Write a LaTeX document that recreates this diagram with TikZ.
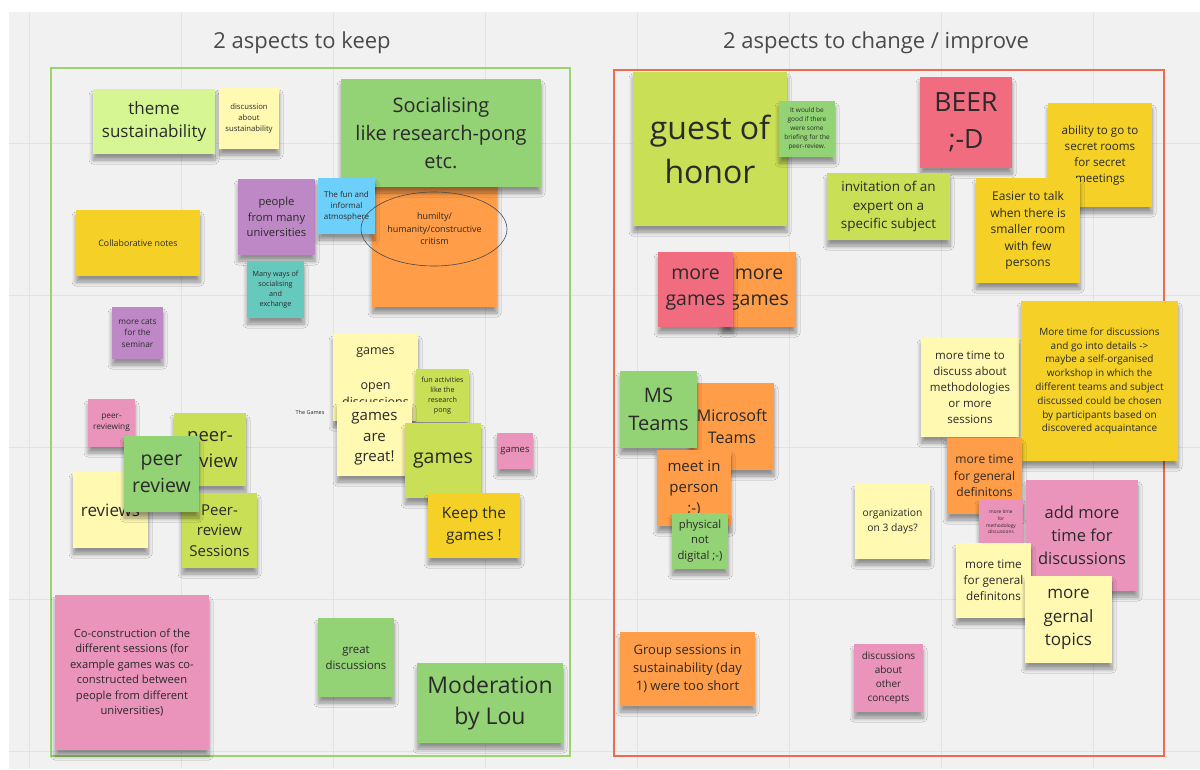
\documentclass[tikz,border=0pt]{standalone}
\usepackage{fontspec}
\setmainfont{Open Sans}
\usetikzlibrary{shadows.blur}
\definecolor{bg}{HTML}{F1F1F1}
\definecolor{gridc}{HTML}{E3E3E3}
\definecolor{ink}{HTML}{2A2A2A}
\definecolor{cLY}{HTML}{FFF9B1}
\definecolor{cYE}{HTML}{F5D128}
\definecolor{cOR}{HTML}{FF9D48}
\definecolor{cLG}{HTML}{D5F692}
\definecolor{cLI}{HTML}{C9DF56}
\definecolor{cGR}{HTML}{93D275}
\definecolor{cCY}{HTML}{6CD0FA}
\definecolor{cTE}{HTML}{66C9BE}
\definecolor{cVI}{HTML}{BE88C7}
\definecolor{cPK}{HTML}{EA94BB}
\definecolor{cRD}{HTML}{F16C7F}
\definecolor{frameG}{HTML}{9AD46E}
\definecolor{frameR}{HTML}{EE6A50}
\tikzset{
  note/.style={inner sep=0pt, align=center, text=ink,
    blur shadow={shadow xshift=0pt, shadow yshift=-6pt, shadow blur radius=4pt, shadow blur steps=6, shadow opacity=40}},
  ly/.style={fill=cLY}, ye/.style={fill=cYE}, or/.style={fill=cOR},
  lg/.style={fill=cLG}, li/.style={fill=cLI}, gr/.style={fill=cGR},
  cy/.style={fill=cCY}, te/.style={fill=cTE}, vi/.style={fill=cVI},
  pk/.style={fill=cPK}, rd/.style={fill=cRD},
  title/.style={text=ink!85, font=\fontsize{22}{26}\selectfont},
  gridline/.style={draw=gridc, line width=0.8pt},
  framebox/.style={line width=1.5pt}
}
% name, colour style, x1, y1, x2, y2, font size, text
\newcommand\sticky[8]{%
  \node[note,#2,minimum width={(#5-#3)*1pt},minimum height={(#6-#4)*1pt},
    font=\fontsize{#7}{\fpeval{1.38*#7}}\selectfont] (#1) at ({(#3+#5)/2},{(#4+#6)/2}) {#8};}
\begin{document}
\begin{tikzpicture}[x=1pt,y=-1pt]
\useasboundingbox (0,0) rectangle (1200,769);
\fill[white] (0,0) rectangle (1200,769);
\fill[bg] (9,12) rectangle (1200,769);
\foreach \gx in {29,181,333,485,637,789,941,1093} \draw[gridline] (\gx,12) -- (\gx,769);
\foreach \gy in {143,295,447,599,751} \draw[gridline] (9,\gy) -- (1200,\gy);
% titles
\node[title] (t1) at (302,43) {2 aspects to keep};
\node[title] (t2) at (876,43) {2 aspects to change / improve};
% frames
\draw[framebox, frameG] (51,68) rectangle (570,756);
\draw[framebox, frameR] (614,70) rectangle (1164,756);
% ---------- left frame ----------
\sticky{theme}{lg}{93}{89}{215}{154}{17}{theme\\sustainability}
\sticky{discsust}{ly}{219}{88}{279}{149}{7.7}{discussion\\about\\sustainability}
\sticky{humility}{or}{372}{151}{497}{307}{9}{humilty/\\humanity/constructive\\critism}
\sticky{social}{gr}{341}{79}{541}{187}{20}{Socialising\\like research-pong\\etc.}
\sticky{people}{vi}{238}{179}{315}{255}{11.2}{people\\from many\\universities}
\sticky{funatm}{cy}{318}{178}{375}{234}{8}{The fun and\\informal\\atmosphere}
\sticky{collab}{ye}{76}{210}{200}{276}{8.8}{Collaborative notes}
\sticky{manyways}{te}{247}{261}{304}{318}{7.2}{Many ways of\\socialising\\and\\exchange}
\sticky{cats}{vi}{112}{307}{163}{359}{8.3}{more cats\\for the\\seminar}
\sticky{peerrev}{pk}{88}{399}{135}{447}{8.3}{peer-\\reviewing}
\sticky{reviews}{ly}{73}{472}{148}{548}{17}{reviews}
\sticky{peerdash}{li}{174}{413}{246}{486}{18.5}{peer-\\review}
\sticky{prsess}{li}{182}{493}{257}{568}{15}{Peer-\\review\\Sessions}
\sticky{peergreen}{gr}{124}{436}{199}{512}{19.5}{peer\\review}
\node[text=ink, font=\fontsize{5.5}{7}\selectfont] (thegames) at (310,412) {The Games};
\sticky{gamesopen}{ly}{333}{334}{418}{421}{12.5}{games\\\mbox{}\\open\\discussions}
\sticky{funact}{li}{416}{369}{469}{422}{7.2}{fun activities\\like the\\research\\pong}
\sticky{gamesgreat}{ly}{337}{402}{412}{476}{15}{games\\are\\great!}
\sticky{gamesbig}{li}{405}{423}{481}{498}{19.5}{games}
\sticky{gamespk}{pk}{497}{433}{533}{469}{9.5}{games}
\sticky{keep}{ye}{428}{493}{520}{558}{15.5}{Keep the\\games !}
\sticky{cocon}{pk}{55}{595}{209}{750}{11.2}{Co-construction of the\\different sessions (for\\example games was co-\\constructed between\\people from different\\universities)}
\sticky{greatdisc}{gr}{318}{618}{394}{697}{11.4}{great\\discussions}
\sticky{moder}{gr}{417}{663}{563}{743}{23}{Moderation\\by Lou}
\draw[draw=ink!85, line width=0.6pt] (434,229) ellipse [x radius=73, y radius=37];
% ---------- right frame ----------
\sticky{guest}{li}{633}{72}{787}{226}{32}{guest of\\honor}
\sticky{brief}{gr}{779}{101}{835}{157}{6.5}{It would be\\good if there\\were some\\briefing for the\\peer-review.}
\sticky{beer}{rd}{920}{77}{1012}{168}{26.5}{BEER\\;-D}
\sticky{invit}{li}{827}{173}{950}{240}{13.5}{invitation of an\\expert on a\\specific subject}
\sticky{ability}{ye}{1048}{103}{1152}{207}{11.6}{ability to go to\\secret rooms\\for secret\\meetings}
\sticky{easier}{ye}{976}{178}{1080}{283}{12}{Easier to talk\\when there is\\smaller room\\with few\\persons}
\sticky{moregamesor}{or}{722}{252}{796}{327}{19.5}{more\\games}
\sticky{moregamesrd}{rd}{658}{252}{733}{327}{19.5}{more\\games}
\sticky{msft}{or}{690}{383}{774}{470}{16}{Microsoft\\Teams}
\sticky{msteams}{gr}{620}{371}{697}{448}{20}{MS\\Teams}
\sticky{meet}{or}{657}{450}{731}{526}{15}{meet in\\person\\;-)}
\sticky{physical}{gr}{672}{513}{728}{569}{11.3}{physical\\not\\digital ;-)}
\sticky{moretime}{ly}{921}{338}{1019}{437}{11.5}{more time to\\discuss about\\methodologies\\or more\\sessions}
\sticky{bigyellow}{ye}{1021}{301}{1178}{461}{10}{More time for discussions\\and go into details ->\\maybe a self-organised\\workshop in which the\\different teams and subject\\discussed could be chosen\\by participants based on\\discovered acquaintance}
\sticky{generalor}{or}{947}{438}{1022}{514}{12}{more time\\for general\\definitons}
\sticky{organiz}{ly}{855}{484}{930}{559}{10.3}{organization\\on 3 days?}
\sticky{methsmall}{pk}{979}{499}{1023}{545}{4.8}{more time\\for\\methodology\\discussions}
\sticky{addmore}{pk}{1026}{480}{1138}{591}{16.5}{add more\\time for\\discussions}
\sticky{generaly}{ly}{956}{543}{1031}{618}{11.7}{more time\\for general\\definitons}
\sticky{gernal}{ly}{1025}{576}{1112}{663}{17}{more\\gernal\\topics}
\sticky{othercon}{pk}{854}{644}{923}{712}{10}{discussions\\about\\other\\concepts}
\sticky{group}{or}{620}{632}{755}{706}{13}{Group sessions in\\sustainability (day\\1) were too short}
\end{tikzpicture}
\end{document}
